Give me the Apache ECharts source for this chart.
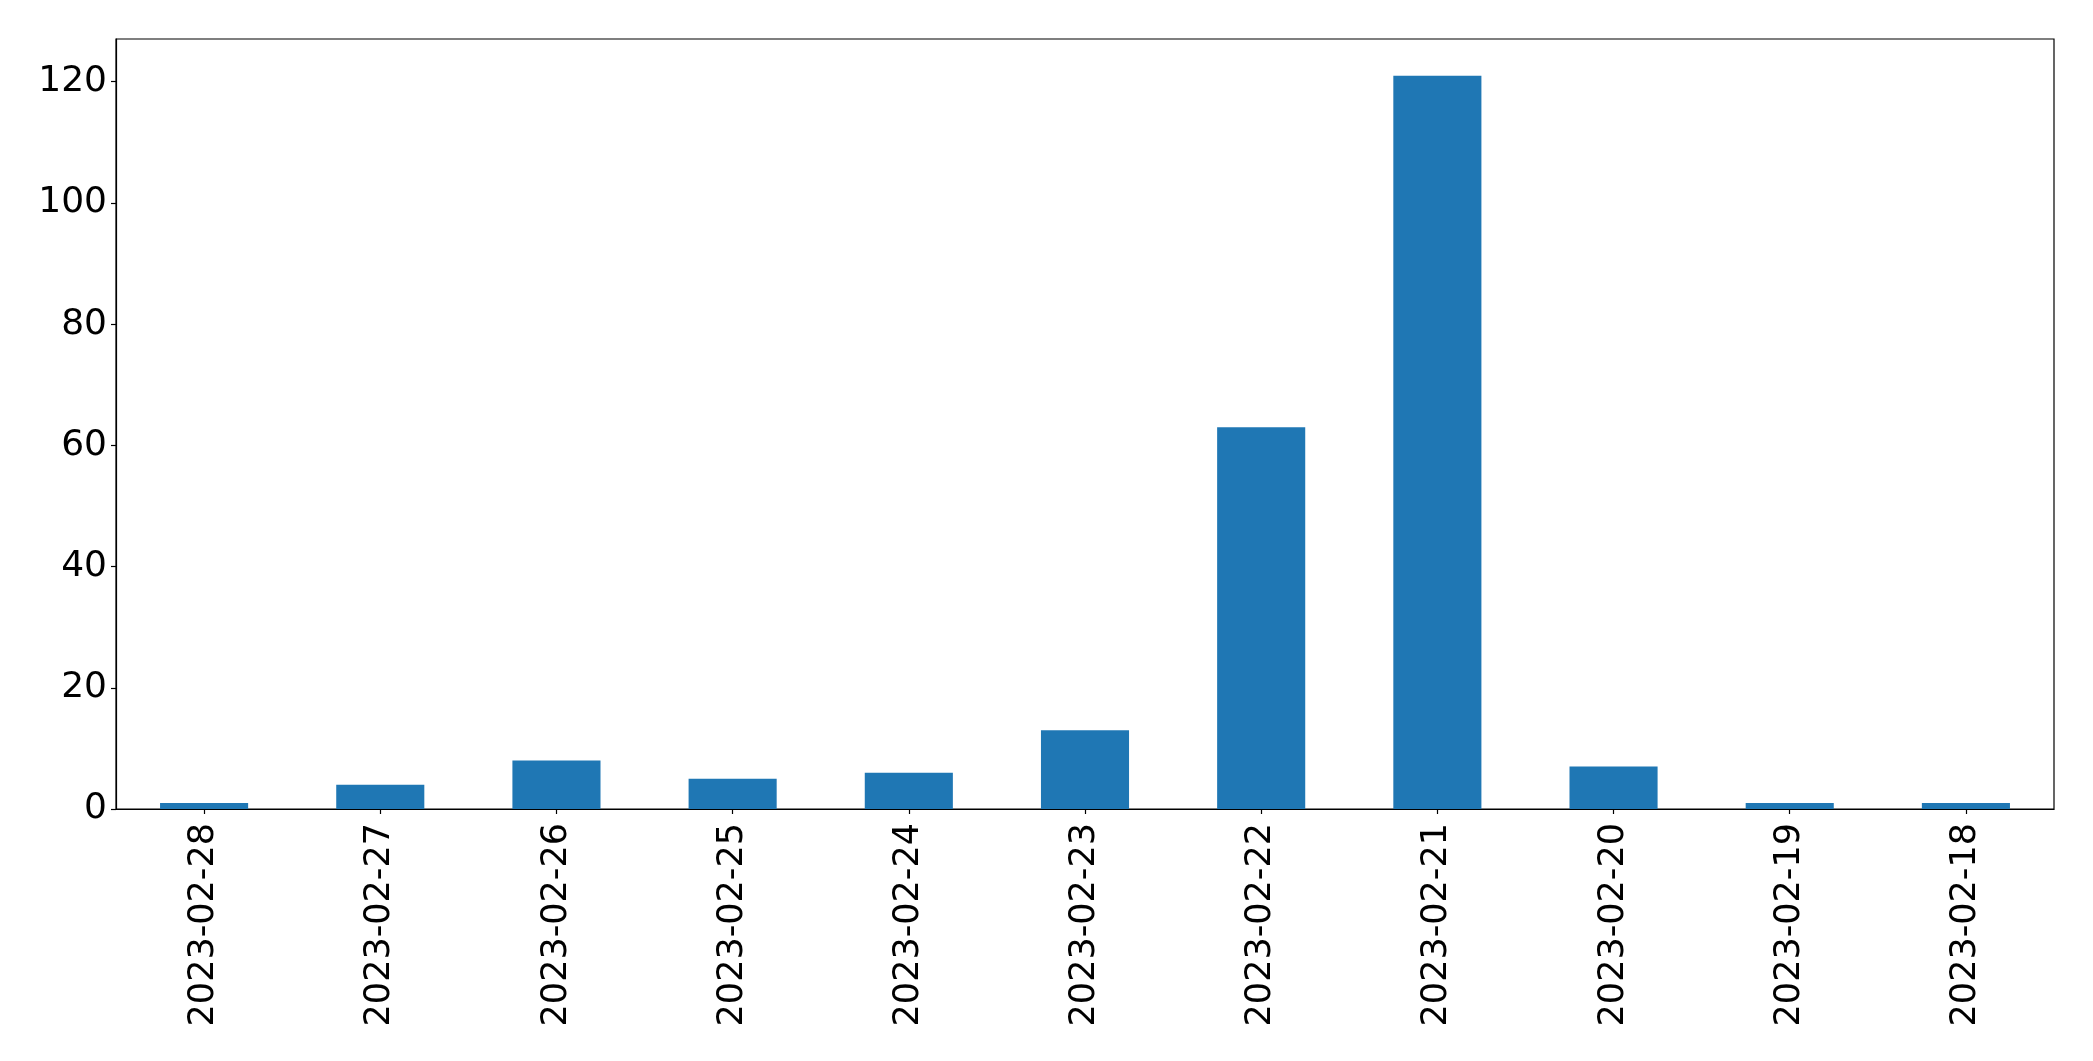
<!DOCTYPE html>
<html>
<head>
<meta charset="utf-8">
<script src="https://cdn.jsdelivr.net/npm/echarts@6/dist/echarts.min.js"></script>
<style>
html,body{margin:0;padding:0;background:#fff;}
#chart{width:2093px;height:1061px;}
</style>
</head>
<body>
<div id="chart"></div>
<script>
const categories = ["2023-02-28","2023-02-27","2023-02-26","2023-02-25","2023-02-24","2023-02-23","2023-02-22","2023-02-21","2023-02-20","2023-02-19","2023-02-18"];
const counts = [1, 4, 8, 5, 6, 13, 63, 121, 7, 1, 1];
const yTicks = [0, 20, 40, 60, 80, 100, 120];
const yMax = 127.05;

const chart = echarts.init(document.getElementById('chart'), null, {renderer: 'canvas'});
const font = 'DejaVu Sans';
chart.setOption({
  animation: false,
  backgroundColor: '#ffffff',
  grid: {
    left: 116, top: 39, width: 1938, height: 770,
    show: true, borderColor: '#000', borderWidth: 1.2, backgroundColor: 'transparent',
    containLabel: false
  },
  xAxis: {
    type: 'category',
    data: categories,
    boundaryGap: true,
    axisLine: {show: true, lineStyle: {color: '#000', width: 1.2}},
    axisTick: {show: true, alignWithLabel: true, length: 5, lineStyle: {color: '#000', width: 1.2}},
    axisLabel: {rotate: 90, margin: 14, color: '#000', fontFamily: font, fontSize: 35, interval: 0},
    splitLine: {show: false}
  },
  yAxis: {
    type: 'value',
    min: 0, max: yMax, interval: 20,
    axisLine: {show: true, lineStyle: {color: '#000', width: 1.2}},
    axisTick: {show: true, length: 5, lineStyle: {color: '#000', width: 1.2}, customValues: yTicks},
    axisLabel: {margin: 9, color: '#000', fontFamily: font, fontSize: 36, padding: [5, 0, 0, 0], customValues: yTicks},
    splitLine: {show: false}
  },
  series: [{
    type: 'bar',
    data: counts,
    barWidth: '50%',
    itemStyle: {color: '#1f77b4'}
  }]
});
</script>
</body>
</html>
